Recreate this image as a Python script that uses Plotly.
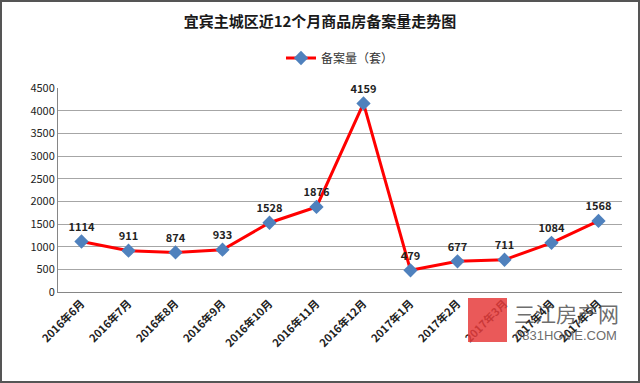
import plotly.graph_objects as go

months = ["2016年6月", "2016年7月", "2016年8月", "2016年9月", "2016年10月", "2016年11月",
          "2016年12月", "2017年1月", "2017年2月", "2017年3月", "2017年4月", "2017年5月"]
values = [1114, 911, 874, 933, 1528, 1876, 4159, 479, 677, 711, 1084, 1568]
y_ticks = [0, 500, 1000, 1500, 2000, 2500, 3000, 3500, 4000, 4500]

FONT = "Noto Sans CJK SC"
L, R, T, B = 58, 18, 88, 91
W, H = 640, 383
PW, PH = W - L - R, H - T - B

def px(x):
    return (x - L) / PW

def py(y):
    return (H - B - y) / PH

fig = go.Figure()
fig.add_trace(go.Scatter(
    x=months, y=values, mode="lines+markers+text", name="备案量（套）",
    line=dict(color="#FF0000", width=3),
    marker=dict(symbol="diamond", size=11, color="#4F81BD"),
    text=[str(v) for v in values], textposition="top center",
    texttemplate="<b>%{text}</b>",
    textfont=dict(family=FONT, size=11, color="#222222"),
    cliponaxis=False,
))

fig.update_layout(
    width=W, height=H,
    margin=dict(l=L, r=R, t=T, b=B, autoexpand=False),
    paper_bgcolor="white", plot_bgcolor="white",
    title=dict(text="<b>宜宾主城区近12个月商品房备案量走势图</b>", x=0.5, xanchor="center",
               y=1 - 22 / H, yanchor="middle",
               font=dict(family=FONT, size=15, color="#1a1a1a")),
    showlegend=True,
    legend=dict(orientation="h", x=0.5, xanchor="center", y=py(58), yanchor="middle",
                font=dict(family=FONT, size=12, color="#333333"), bgcolor="rgba(0,0,0,0)"),
    xaxis=dict(type="category", showgrid=False, showline=True, linecolor="#868686",
               tickangle=-45, ticks="", tickfont=dict(family=FONT, size=11, color="#222222"),
               range=[-0.5, 11.5], tickprefix="<b>", ticksuffix="</b>"),
    yaxis=dict(range=[0, 4500], tickvals=y_ticks, showgrid=True, gridcolor="#A6A6A6",
               gridwidth=1, showline=True, linecolor="#868686", ticks="", zeroline=False,
               tickfont=dict(family=FONT, size=11, color="#222222"),
               tickprefix="<b>", ticksuffix="</b>"),
    shapes=[
        dict(type="rect", xref="paper", yref="paper", x0=px(1), x1=px(639), y0=py(382), y1=py(1),
             line=dict(color="#555555", width=2), fillcolor="rgba(0,0,0,0)", layer="above"),
        dict(type="rect", xref="paper", yref="paper", x0=px(468), x1=px(507), y0=py(342), y1=py(298),
             line=dict(width=0), fillcolor="rgba(230,60,60,0.85)", layer="above"),
    ],
    annotations=[
        dict(text="三江房产网", xref="paper", yref="paper", x=px(512), y=py(313), xanchor="left",
             yanchor="middle", showarrow=False, font=dict(family=FONT, size=21, color="rgba(70,70,70,0.8)")),
        dict(text="0831HOME.COM", xref="paper", yref="paper", x=px(513), y=py(335), xanchor="left",
             yanchor="middle", showarrow=False, font=dict(family="Liberation Sans Narrow, Liberation Sans", size=13, color="rgba(70,70,70,0.8)")),
    ],
)

fig.write_html("out.html", config={"displayModeBar": False},
               post_script="document.body.style.margin='0';document.body.style.overflow='hidden';")
